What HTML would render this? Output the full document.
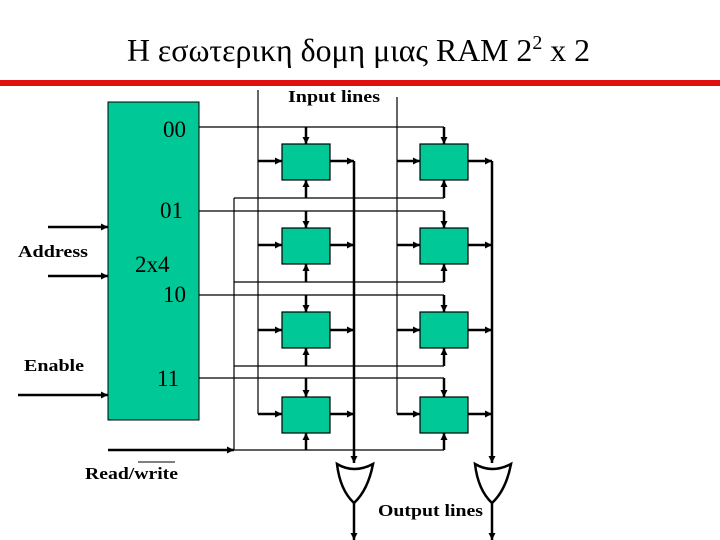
<!DOCTYPE html>
<html><head><meta charset="utf-8"><style>
html,body{margin:0;padding:0;background:#fff;width:720px;height:540px;overflow:hidden}
svg{display:block}
</style></head><body>
<svg width="720" height="540" viewBox="0 0 720 540" xmlns="http://www.w3.org/2000/svg">
<defs>
<marker id="a" viewBox="0 0 10 10" refX="10" refY="5" markerWidth="8" markerHeight="7" orient="auto" markerUnits="userSpaceOnUse"><path d="M0,0L10,5L0,10z" fill="#000"/></marker>
</defs>
<text x="127" y="61" font-family="Liberation Serif, serif" font-size="32" textLength="463" lengthAdjust="spacingAndGlyphs">Η εσωτερικη δομη μιας RAM 2<tspan font-size="20" dy="-12">2</tspan><tspan dy="12"> x 2</tspan></text>
<rect x="0" y="80" width="720" height="6" fill="#e01010"/>
<text x="288" y="102" font-family="Liberation Serif, serif" font-weight="bold" font-size="17" textLength="92" lengthAdjust="spacingAndGlyphs">Input lines</text>
<rect x="108" y="102" width="91" height="318" fill="#00c896" stroke="#000" stroke-width="1"/>
<g font-family="Liberation Serif, serif" font-size="23" fill="#000">
<text x="163" y="137">00</text>
<text x="160" y="218">01</text>
<text x="135" y="272">2x4</text>
<text x="163" y="302">10</text>
<text x="157" y="386">11</text>
</g>
<g font-family="Liberation Serif, serif" font-weight="bold" font-size="17">
<text x="18" y="257" textLength="70" lengthAdjust="spacingAndGlyphs">Address</text>
<text x="24" y="371" textLength="60" lengthAdjust="spacingAndGlyphs">Enable</text>
<text x="85" y="479" textLength="93" lengthAdjust="spacingAndGlyphs">Read/write</text>
</g>
<line x1="138" y1="462" x2="175" y2="462" stroke="#000" stroke-width="1"/>
<g stroke="#000" stroke-width="2.5" fill="none">
<line x1="48" y1="227" x2="108" y2="227" marker-end="url(#a)"/>
<line x1="48" y1="276" x2="108" y2="276" marker-end="url(#a)"/>
<line x1="18" y1="395" x2="108" y2="395" marker-end="url(#a)"/>
<line x1="108" y1="450" x2="234" y2="450" marker-end="url(#a)"/>
</g>
<g stroke="#000" stroke-width="1.2" fill="none">
<line x1="258" y1="90" x2="258" y2="414"/>
<line x1="397" y1="97" x2="397" y2="414"/>
<line x1="234" y1="198" x2="234" y2="450"/>
<polyline points="199,127 444,127"/>
<polyline points="199,211 444,211"/>
<polyline points="199,295 444,295"/>
<polyline points="199,378 444,378"/>
<polyline points="234,198 444,198"/>
<polyline points="234,282 444,282"/>
<polyline points="234,366 444,366"/>
<polyline points="234,450 444,450"/>
</g>
<g stroke="#000" stroke-width="2.5" fill="none">
<line x1="354" y1="161" x2="354" y2="463" marker-end="url(#a)"/>
<line x1="492" y1="161" x2="492" y2="463" marker-end="url(#a)"/>
<line x1="354" y1="503" x2="354" y2="540" marker-end="url(#a)"/>
<line x1="492" y1="503" x2="492" y2="540" marker-end="url(#a)"/>
</g>
<g stroke="#000" stroke-width="2.5" fill="none">
<line x1="306" y1="127" x2="306" y2="144" marker-end="url(#a)"/><line x1="444" y1="127" x2="444" y2="144" marker-end="url(#a)"/>
<line x1="306" y1="198" x2="306" y2="180" marker-end="url(#a)"/><line x1="444" y1="198" x2="444" y2="180" marker-end="url(#a)"/>
<line x1="258" y1="161" x2="282" y2="161" marker-end="url(#a)"/><line x1="397" y1="161" x2="420" y2="161" marker-end="url(#a)"/>
<line x1="330" y1="161" x2="354" y2="161" marker-end="url(#a)"/><line x1="468" y1="161" x2="492" y2="161" marker-end="url(#a)"/>
<line x1="306" y1="211" x2="306" y2="228" marker-end="url(#a)"/><line x1="444" y1="211" x2="444" y2="228" marker-end="url(#a)"/>
<line x1="306" y1="282" x2="306" y2="264" marker-end="url(#a)"/><line x1="444" y1="282" x2="444" y2="264" marker-end="url(#a)"/>
<line x1="258" y1="245" x2="282" y2="245" marker-end="url(#a)"/><line x1="397" y1="245" x2="420" y2="245" marker-end="url(#a)"/>
<line x1="330" y1="245" x2="354" y2="245" marker-end="url(#a)"/><line x1="468" y1="245" x2="492" y2="245" marker-end="url(#a)"/>
<line x1="306" y1="295" x2="306" y2="312" marker-end="url(#a)"/><line x1="444" y1="295" x2="444" y2="312" marker-end="url(#a)"/>
<line x1="306" y1="366" x2="306" y2="348" marker-end="url(#a)"/><line x1="444" y1="366" x2="444" y2="348" marker-end="url(#a)"/>
<line x1="258" y1="330" x2="282" y2="330" marker-end="url(#a)"/><line x1="397" y1="330" x2="420" y2="330" marker-end="url(#a)"/>
<line x1="330" y1="330" x2="354" y2="330" marker-end="url(#a)"/><line x1="468" y1="330" x2="492" y2="330" marker-end="url(#a)"/>
<line x1="306" y1="378" x2="306" y2="397" marker-end="url(#a)"/><line x1="444" y1="378" x2="444" y2="397" marker-end="url(#a)"/>
<line x1="306" y1="450" x2="306" y2="433" marker-end="url(#a)"/><line x1="444" y1="450" x2="444" y2="433" marker-end="url(#a)"/>
<line x1="258" y1="414" x2="282" y2="414" marker-end="url(#a)"/><line x1="397" y1="414" x2="420" y2="414" marker-end="url(#a)"/>
<line x1="330" y1="414" x2="354" y2="414" marker-end="url(#a)"/><line x1="468" y1="414" x2="492" y2="414" marker-end="url(#a)"/>
</g>
<g fill="#00c896" stroke="#000" stroke-width="1.2">
<rect x="282" y="144" width="48" height="36"/><rect x="420" y="144" width="48" height="36"/>
<rect x="282" y="228" width="48" height="36"/><rect x="420" y="228" width="48" height="36"/>
<rect x="282" y="312" width="48" height="36"/><rect x="420" y="312" width="48" height="36"/>
<rect x="282" y="397" width="48" height="36"/><rect x="420" y="397" width="48" height="36"/>
</g>
<g stroke="#000" stroke-width="2.5" fill="#fff">
<path d="M337,464 Q354,474 373,464 Q368,490 354,503 Q340,490 337,464 Z"/>
<path d="M475,464 Q492,474 511,464 Q506,490 492,503 Q478,490 475,464 Z"/>
</g>
<text x="378" y="516" font-family="Liberation Serif, serif" font-weight="bold" font-size="17" textLength="105" lengthAdjust="spacingAndGlyphs">Output lines</text>
</svg>
</body></html>
